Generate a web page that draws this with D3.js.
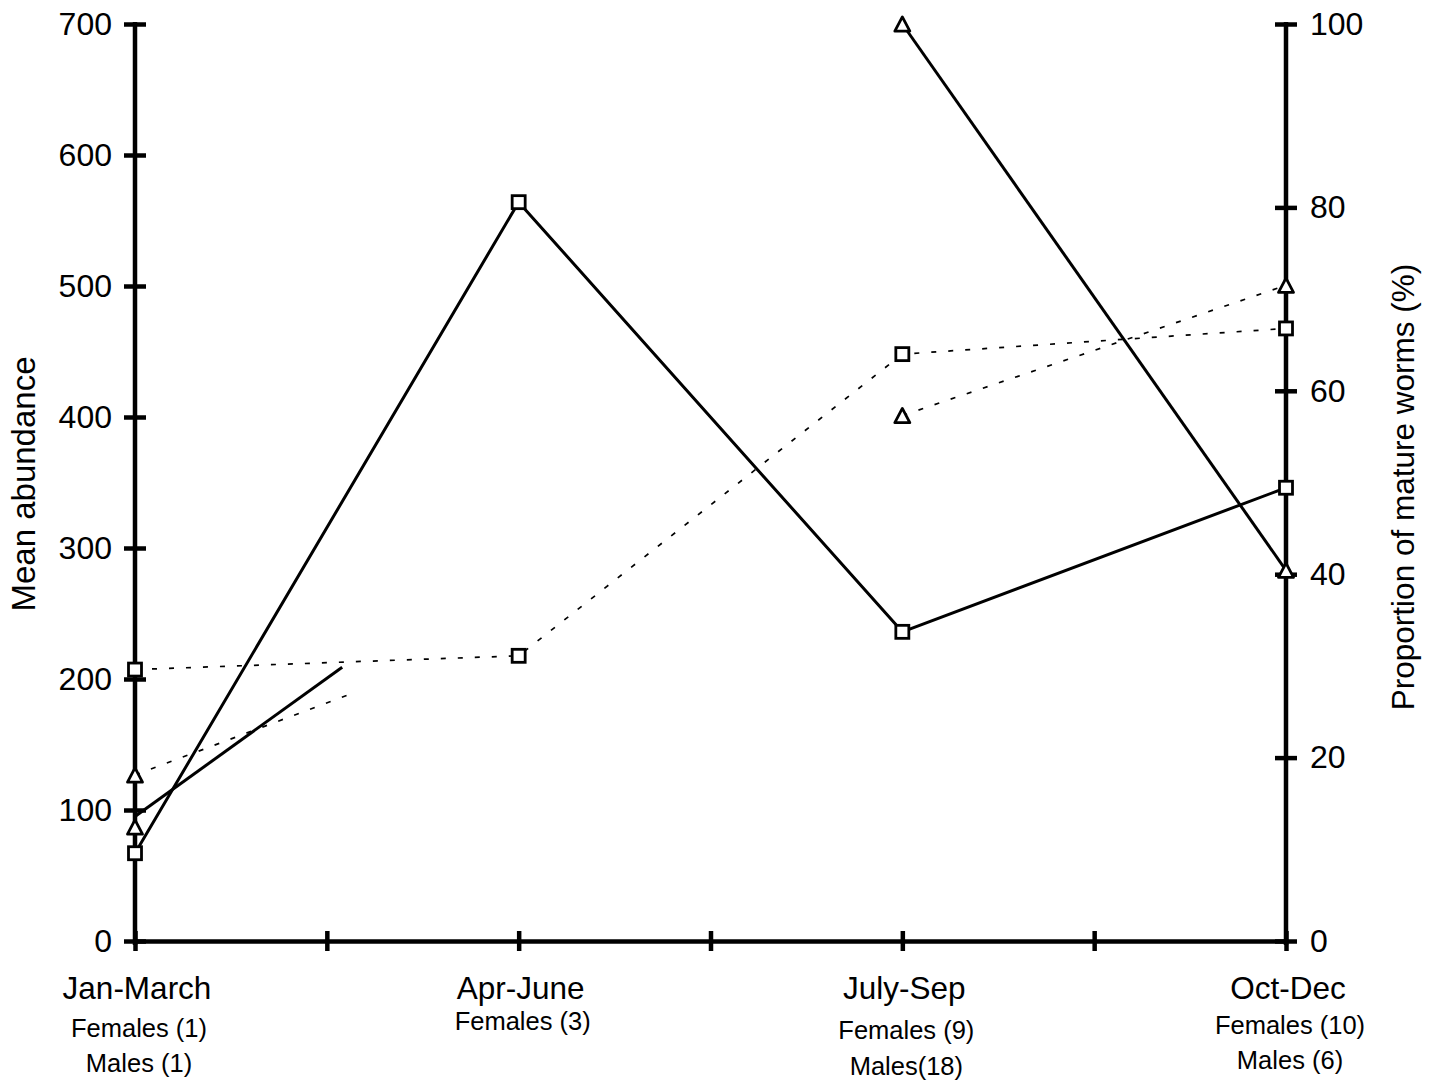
<!DOCTYPE html>
<html>
<head>
<meta charset="utf-8">
<script src="https://cdn.jsdelivr.net/npm/d3@7"></script>
<style>
  html, body { margin: 0; padding: 0; background: #fff; }
  svg { display: block; }
  text { font-family: "Liberation Sans", Arial, Helvetica, sans-serif; fill: #000; }
</style>
</head>
<body>
<svg id="chart" width="1437" height="1083"></svg>
<script>
// ---------------- DATA ----------------
const categories = ["Jan-March", "Apr-June", "July-Sep", "Oct-Dec"];
const subLabels = [["Females (1)", "Males (1)"], ["Females (3)"], ["Females (9)", "Males(18)"], ["Females (10)", "Males (6)"]];

// Mean abundance (left axis)
const femaleAbundance = [67, 564, 236, 346];
const maleAbundance = [87, null, 700, 283];
// Proportion of mature worms, % (right axis)
const femaleMature = [29.6, 31.1, 64.0, 66.8];
const maleMature = [18.1, null, 57.3, 71.5];
// partial segments drawn from Jan-March towards the missing Apr-June male values
const maleAbundanceStub = { pos: 0.54, value: 209 };
const maleMatureStub = { pos: 0.553, value: 26.8 };

const leftTicks = [0, 100, 200, 300, 400, 500, 600, 700];
const rightTicks = [0, 20, 40, 60, 80, 100];
const bottomTicks = [0, 0.5, 1, 1.5, 2, 2.5, 3];

// ---------------- LAYOUT ----------------
const svg = d3.select("#chart");
const x = d3.scaleLinear().domain([0, 3]).range([135, 1286]);
const yL = d3.scaleLinear().domain([0, 700]).range([941, 24]);
const yR = d3.scaleLinear().domain([0, 100]).range([941, 24]);
const subLabelBase = [[1037, 1072], [1030], [1039, 1075], [1034, 1069]];

// ---------------- AXES ----------------
const axisW = 4.5;
const gL = svg.append("g").attr("transform", `translate(${x(0)},0)`)
  .call(d3.axisLeft(yL).tickValues(leftTicks).tickSize(0).tickPadding(23).tickSizeOuter(0));
gL.select(".domain").attr("stroke-width", axisW).attr("d", `M0,${yL(700) - 2}V${yL(0) + 4}`);
gL.selectAll(".tick line").attr("x1", -11).attr("x2", 11).attr("stroke-width", axisW).attr("stroke", "#000");
gL.selectAll(".tick text").attr("font-size", 32).attr("font-family", "Liberation Sans, Arial, sans-serif");

const gR = svg.append("g").attr("transform", `translate(${x(3)},0)`)
  .call(d3.axisRight(yR).tickValues(rightTicks).tickSize(0).tickPadding(24).tickSizeOuter(0));
gR.select(".domain").attr("stroke-width", axisW).attr("d", `M0,${yR(100) - 2}V${yR(0) + 4}`);
gR.selectAll(".tick line").attr("x1", -11).attr("x2", 11).attr("stroke-width", axisW).attr("stroke", "#000");
gR.selectAll(".tick text").attr("font-size", 32).attr("font-family", "Liberation Sans, Arial, sans-serif");

const gB = svg.append("g").attr("transform", `translate(0,${yL(0)})`)
  .call(d3.axisBottom(x).tickValues(bottomTicks).tickSize(0).tickFormat(() => "").tickSizeOuter(0));
gB.select(".domain").attr("stroke-width", axisW);
gB.selectAll(".tick line").attr("y1", -10).attr("y2", 10).attr("stroke-width", axisW).attr("stroke", "#000");

// Category labels
categories.forEach((c, i) => {
  svg.append("text").attr("x", x(i) + 2).attr("y", 999).attr("text-anchor", "middle")
    .attr("font-size", 31.5).text(c);
  subLabels[i].forEach((s, j) => {
    svg.append("text").attr("x", x(i) + 4).attr("y", subLabelBase[i][j]).attr("text-anchor", "middle")
      .attr("font-size", 25.5).text(s);
  });
});

// Axis titles
svg.append("text").attr("transform", `translate(35,484) rotate(-90)`).attr("text-anchor", "middle")
  .attr("font-size", 33).text("Mean abundance");
svg.append("text").attr("transform", `translate(1414,487) rotate(-90)`).attr("text-anchor", "middle")
  .attr("font-size", 31.5).text("Proportion of mature worms (%)");

// ---------------- LINES ----------------
const toPts = (arr) => arr.map((v, i) => ({ pos: i, value: v }));
const lineL = d3.line().defined(d => d.value != null).x(d => x(d.pos)).y(d => yL(d.value));
const lineR = d3.line().defined(d => d.value != null).x(d => x(d.pos)).y(d => yR(d.value));

const solid = { fill: "none", stroke: "#000", "stroke-width": 3, "stroke-linejoin": "round" };
const dotted = { fill: "none", stroke: "#000", "stroke-width": 1.7, "stroke-dasharray": "5,12" };
function drawPath(d, style) {
  const p = svg.append("path").attr("d", d);
  Object.entries(style).forEach(([k, v]) => p.attr(k, v));
}

// dotted proportions
drawPath(lineR(toPts(femaleMature)), dotted);
drawPath(lineR(toPts(maleMature)), dotted);
drawPath(lineR([{ pos: 0, value: maleMature[0] }, maleMatureStub]), dotted);

// solid abundances
drawPath(lineL(toPts(femaleAbundance)), solid);
drawPath(lineL(toPts(maleAbundance)), solid);
drawPath(lineL([{ pos: 0, value: maleAbundance[0] + 8 }, maleAbundanceStub]), solid);

// ---------------- MARKERS ----------------
const sq = 13, tri = 15;
function squares(arr, y) {
  svg.append("g").selectAll("rect").data(toPts(arr).filter(d => d.value != null)).join("rect")
    .attr("x", d => x(d.pos) - sq / 2).attr("y", d => y(d.value) - sq / 2)
    .attr("width", sq).attr("height", sq)
    .attr("fill", "#fff").attr("stroke", "#000").attr("stroke-width", 2.8);
}
function triangles(arr, y) {
  const h = tri * 0.95;
  svg.append("g").selectAll("path").data(toPts(arr).filter(d => d.value != null)).join("path")
    .attr("d", d => {
      const cx = x(d.pos), cy = y(d.value);
      return `M${cx},${cy - h / 2}L${cx + tri / 2},${cy + h / 2}L${cx - tri / 2},${cy + h / 2}Z`;
    })
    .attr("fill", "#fff").attr("stroke", "#000").attr("stroke-width", 2.8).attr("stroke-linejoin", "round");
}
squares(femaleMature, yR);
triangles(maleMature, yR);
squares(femaleAbundance, yL);
triangles(maleAbundance, yL);
</script>
</body>
</html>
